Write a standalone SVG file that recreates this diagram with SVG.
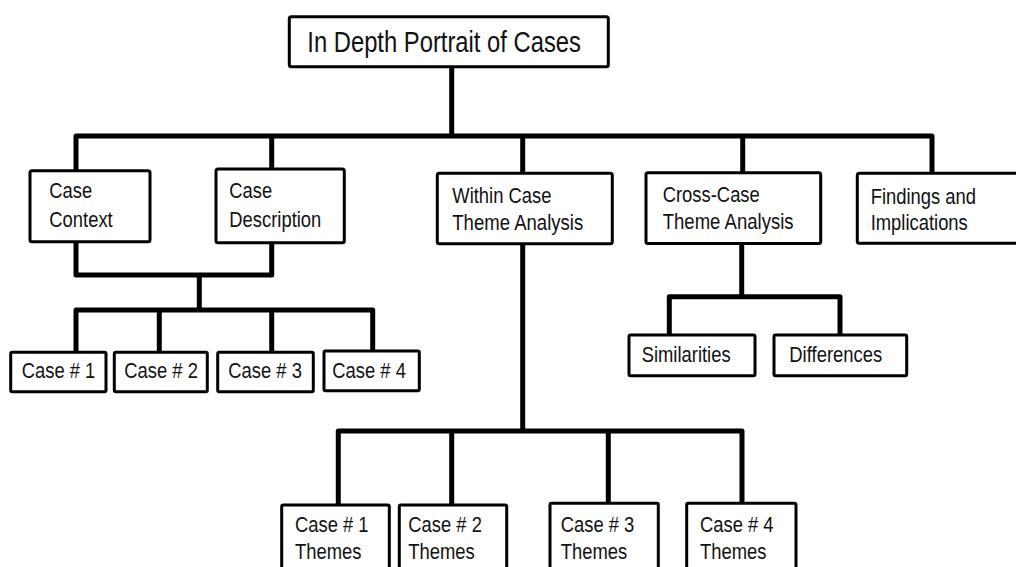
<svg xmlns="http://www.w3.org/2000/svg" width="1016" height="567" viewBox="0 0 1016 567">
<style>
.box{fill:#fff;stroke:#000;stroke-width:3;}
.con{fill:none;stroke:#000;stroke-width:5;stroke-linejoin:round;}
text{font-family:"Liberation Sans",Arial,sans-serif;font-size:22.5px;fill:#111;}
.title{font-size:29px;}
</style>
<rect width="1016" height="567" fill="#fff"/>
<g id="connectors">
<path class="con" d="M451.7,66.7 V136"/>
<path class="con" d="M76,170.7 V136 H932 V173.3"/>
<path class="con" d="M271.7,136 V169"/>
<path class="con" d="M522.7,136 V173.3"/>
<path class="con" d="M742.7,136 V172.7"/>
<path class="con" d="M76,241.7 V275 H271.7 V242.7"/>
<path class="con" d="M199.3,275 V310"/>
<path class="con" d="M76,352 V310 H372.7 V351"/>
<path class="con" d="M159.3,310 V352"/>
<path class="con" d="M271.7,310 V352"/>
<path class="con" d="M741.7,243.3 V296.7"/>
<path class="con" d="M669.3,335 V296.7 H840 V335"/>
<path class="con" d="M522.7,243.3 V431"/>
<path class="con" d="M338.3,505 V431 H742 V503.3"/>
<path class="con" d="M451.7,431 V505"/>
<path class="con" d="M608.3,431 V503.3"/>
</g>
<g id="root">
<rect class="box" x="289.3" y="16.7" width="319" height="50" rx="2"/>
<text class="title" x="307.3" y="52.3" textLength="273.6" lengthAdjust="spacingAndGlyphs">In Depth Portrait of Cases</text>
</g>
<g id="case-context">
<rect class="box" x="30" y="170.7" width="120" height="71" rx="2"/>
<text x="49.3" y="198.3" textLength="42.9" lengthAdjust="spacingAndGlyphs">Case</text>
<text x="49.3" y="226.7" textLength="63.4" lengthAdjust="spacingAndGlyphs">Context</text>
</g>
<g id="case-description">
<rect class="box" x="216" y="169" width="128.3" height="73.7" rx="2"/>
<text x="229.3" y="198.3" textLength="42.9" lengthAdjust="spacingAndGlyphs">Case</text>
<text x="229.3" y="226.7" textLength="92" lengthAdjust="spacingAndGlyphs">Description</text>
</g>
<g id="within-case">
<rect class="box" x="437.3" y="173.3" width="175" height="70.5" rx="2"/>
<text x="452.3" y="203.3" textLength="99.2" lengthAdjust="spacingAndGlyphs">Within Case</text>
<text x="452.3" y="230" textLength="130.9" lengthAdjust="spacingAndGlyphs">Theme Analysis</text>
</g>
<g id="cross-case">
<rect class="box" x="646" y="172.7" width="174.7" height="70.8" rx="2"/>
<text x="662.7" y="201.7" textLength="97.1" lengthAdjust="spacingAndGlyphs">Cross-Case</text>
<text x="662.7" y="229.3" textLength="130.9" lengthAdjust="spacingAndGlyphs">Theme Analysis</text>
</g>
<g id="findings">
<rect class="box" x="857.3" y="173.3" width="170" height="70" rx="2"/>
<text x="870.7" y="204" textLength="105.3" lengthAdjust="spacingAndGlyphs">Findings and</text>
<text x="870.7" y="230" textLength="97.1" lengthAdjust="spacingAndGlyphs">Implications</text>
</g>
<g id="case-1">
<rect class="box" x="10.7" y="352.3" width="95.3" height="39.4" rx="1.5"/>
<text x="21.7" y="378.3" textLength="73.6" lengthAdjust="spacingAndGlyphs">Case # 1</text>
</g>
<g id="case-2">
<rect class="box" x="114.3" y="352.3" width="93" height="39.4" rx="1.5"/>
<text x="124.3" y="378.3" textLength="73.6" lengthAdjust="spacingAndGlyphs">Case # 2</text>
</g>
<g id="case-3">
<rect class="box" x="217.7" y="352.3" width="95.6" height="39.4" rx="1.5"/>
<text x="228.3" y="378.3" textLength="73.6" lengthAdjust="spacingAndGlyphs">Case # 3</text>
</g>
<g id="case-4">
<rect class="box" x="324" y="351" width="95.3" height="39.7" rx="1.5"/>
<text x="332.3" y="378.3" textLength="73.6" lengthAdjust="spacingAndGlyphs">Case # 4</text>
</g>
<g id="similarities">
<rect class="box" x="629" y="335" width="126" height="40.7" rx="1.5"/>
<text x="641.7" y="361.7" textLength="88.9" lengthAdjust="spacingAndGlyphs">Similarities</text>
</g>
<g id="differences">
<rect class="box" x="774" y="335" width="132.7" height="40.7" rx="1.5"/>
<text x="789.3" y="361.7" textLength="93" lengthAdjust="spacingAndGlyphs">Differences</text>
</g>
<g id="case-1-themes">
<rect class="box" x="281.7" y="505" width="107.6" height="75" rx="1.5"/>
<text x="295" y="531.7" textLength="73.6" lengthAdjust="spacingAndGlyphs">Case # 1</text>
<text x="295" y="559.3" textLength="66.5" lengthAdjust="spacingAndGlyphs">Themes</text>
</g>
<g id="case-2-themes">
<rect class="box" x="399.3" y="505" width="107.4" height="75" rx="1.5"/>
<text x="408.3" y="531.7" textLength="73.6" lengthAdjust="spacingAndGlyphs">Case # 2</text>
<text x="408.3" y="559.3" textLength="66.5" lengthAdjust="spacingAndGlyphs">Themes</text>
</g>
<g id="case-3-themes">
<rect class="box" x="550" y="503.3" width="108.3" height="75" rx="1.5"/>
<text x="560.7" y="531.7" textLength="73.6" lengthAdjust="spacingAndGlyphs">Case # 3</text>
<text x="560.7" y="559.3" textLength="66.5" lengthAdjust="spacingAndGlyphs">Themes</text>
</g>
<g id="case-4-themes">
<rect class="box" x="686.7" y="503.3" width="109.3" height="75" rx="1.5"/>
<text x="700" y="531.7" textLength="73.6" lengthAdjust="spacingAndGlyphs">Case # 4</text>
<text x="700" y="559.3" textLength="66.5" lengthAdjust="spacingAndGlyphs">Themes</text>
</g>
</svg>
